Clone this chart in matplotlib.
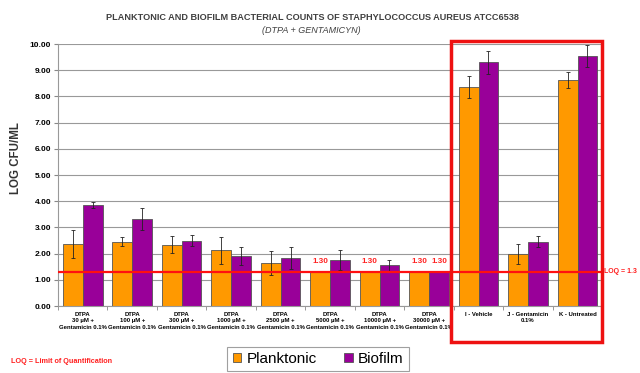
import numpy as np
import matplotlib.pyplot as plt
from matplotlib import font_manager
from matplotlib.patches import Rectangle

categories = ['DTPA\n30 µM +\nGentamicin 0.1%', 'DTPA\n100 µM +\nGentamicin 0.1%',
              'DTPA\n300 µM +\nGentamicin 0.1%', 'DTPA\n1000 µM +\nGentamicin 0.1%',
              'DTPA\n2500 µM +\nGentamicin 0.1%', 'DTPA\n5000 µM +\nGentamicin 0.1%',
              'DTPA\n10000 µM +\nGentamicin 0.1%', 'DTPA\n30000 µM +\nGentamicin 0.1%',
              'I - Vehicle', 'J - Gentamicin\n0.1%', 'K - Untreated']
planktonic = [2.37, 2.46, 2.34, 2.12, 1.65, 1.30, 1.30, 1.30, 8.37, 1.98, 8.64]
planktonic_err = [0.52, 0.17, 0.33, 0.50, 0.45, 0, 0, 0, 0.42, 0.39, 0.31]
biofilm = [3.85, 3.32, 2.50, 1.92, 1.83, 1.77, 1.56, 1.30, 9.30, 2.46, 9.54]
biofilm_err = [0.12, 0.41, 0.22, 0.34, 0.41, 0.38, 0.21, 0, 0.44, 0.22, 0.42]
loq = 1.3

orange = '#FF9900'
purple = '#990099'
red = '#FF2020'

plt.rcParams['font.family'] = 'Liberation Sans'

# condensed font for the title if it exists
try:
    font_manager.findfont('Liberation Sans Narrow', fallback_to_default=False)
    narrow = 'Liberation Sans Narrow'
    title_size = 8.0
except Exception:
    narrow = 'Liberation Sans'
    title_size = 6.6

fig = plt.figure(figsize=(6.4, 3.73), dpi=100)
ax = fig.add_axes([0.0906, 0.1796, 0.8504, 0.7024])

x = np.arange(len(categories))
w = 0.4
ax.bar(x - w/2, planktonic, w, color=orange, edgecolor='#555555', linewidth=0.6,
       label='Planktonic', zorder=2)
ax.bar(x + w/2, biofilm, w, color=purple, edgecolor='#555555', linewidth=0.6,
       label='Biofilm', zorder=2)
for xs, vals, errs in [(x - w/2, planktonic, planktonic_err), (x + w/2, biofilm, biofilm_err)]:
    for xi, v, e in zip(xs, vals, errs):
        if e > 0:
            ax.errorbar(xi, v, yerr=e, color='#222222', elinewidth=0.6, capsize=1.5,
                        capthick=0.6, zorder=3)
# labels at LOQ
for xs, vals in [(x - w/2, planktonic), (x + w/2, biofilm)]:
    for xi, v in zip(xs, vals):
        if v == loq and xi < 8:
            ax.text(xi, v + 0.38, '1.30', color=red, fontsize=5.8, fontweight='bold',
                    ha='center', va='center', zorder=4)

ax.axhline(loq, color='#FF1010', linewidth=1.6, zorder=4)
ax.text(1.004, loq, 'LOQ = 1.3', transform=ax.get_yaxis_transform(), color=red,
        fontsize=5, fontweight='bold', va='center', ha='left', clip_on=False)

ax.set_xlim(-0.5, len(categories) - 0.5)
ax.set_ylim(0, 10)
ax.set_yticks(np.arange(0, 11, 1))
ax.set_yticklabels([f'{v:.2f}' for v in np.arange(0, 11, 1)], fontsize=6, fontweight='bold')
ax.set_xticks(x)
ax.set_xticklabels(categories, fontsize=4.3, fontweight='bold', linespacing=1.4)
ax.tick_params(axis='x', length=0, pad=4)
ax.set_xticks(np.arange(-0.5, len(categories), 1), minor=True)
ax.tick_params(axis='x', which='minor', length=3, color='#888888')
ax.tick_params(axis='y', length=3, color='#888888', pad=2)
ax.yaxis.grid(True, color='#999999', linewidth=0.8, zorder=0)
ax.set_axisbelow(True)
for s in ['top', 'right']:
    ax.spines[s].set_visible(False)
for s in ['left', 'bottom']:
    ax.spines[s].set_color('#999999')

ax.set_ylabel('LOG CFU/ML', fontsize=8.3, fontweight='bold', color='#333333', family=narrow)
ax.yaxis.set_label_coords(-0.066, 0.565)

fig.text(0.488, 0.952, 'PLANKTONIC AND BIOFILM BACTERIAL COUNTS OF STAPHYLOCOCCUS AUREUS ATCC6538',
         ha='center', va='center', fontsize=title_size, fontweight='bold', color='#404040',
         family=narrow)
fig.text(0.487, 0.917, '(DTPA + GENTAMICYN)', ha='center', va='center', fontsize=6.5,
         style='italic', color='#404040')

# red frame around control groups
fig.patches.append(Rectangle((451/640, 1 - 342/373), 151/640, 301/373, transform=fig.transFigure,
                             fill=False, edgecolor='#EE1111', linewidth=2.5, zorder=5))

fig.text(0.017, 0.032, 'LOQ = Limit of Quantification', color=red, fontsize=5.2,
         fontweight='bold', va='center', family=narrow)
leg = fig.legend(loc='center', bbox_to_anchor=(0.497, 0.0375), ncol=2, fontsize=11,
                 frameon=True, fancybox=False, edgecolor='#888888', handlelength=0.55,
                 handleheight=0.55, handletextpad=0.35, columnspacing=1.8, borderpad=0.35)
leg.get_frame().set_linewidth(0.8)

fig.savefig('out.png', dpi=100)
